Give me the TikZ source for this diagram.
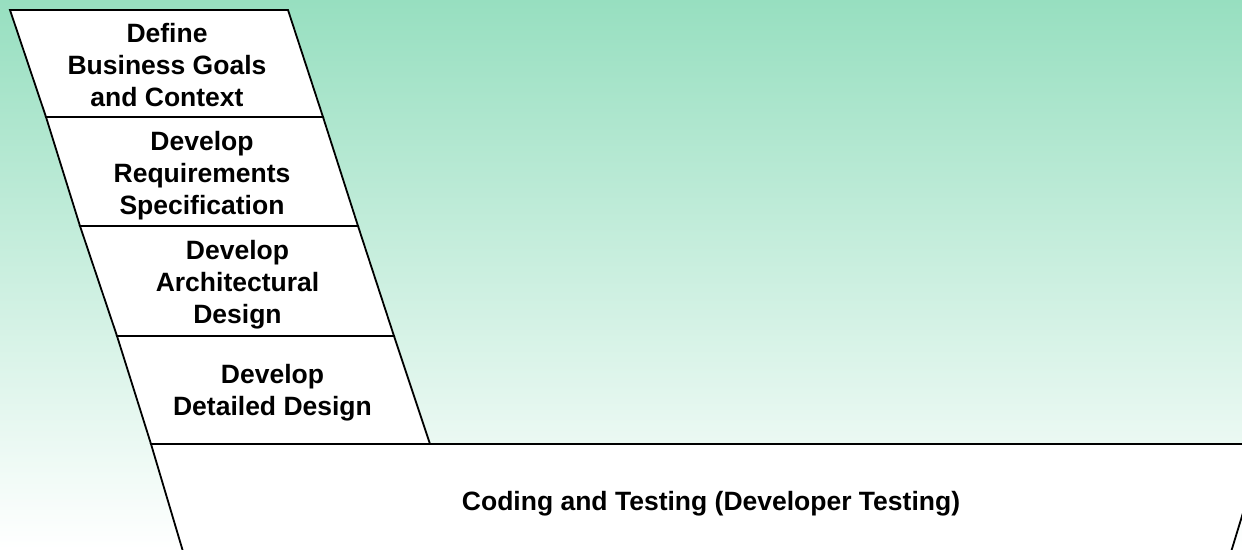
\documentclass[tikz,border=0pt]{standalone}
\usepackage{fontspec}
\setmainfont{Liberation Sans}
\definecolor{bgtop}{RGB}{151,223,192}
\tikzset{
  stage/.style={draw=black, fill=white, line width=1.8pt, line join=miter},
  lbl/.style={anchor=base, inner sep=0pt, font=\fontsize{26.5}{32}\selectfont\bfseries}
}
\begin{document}
\begin{tikzpicture}[x=1pt,y=-1pt]
\useasboundingbox (0,0) rectangle (1242,549);
\clip (0,0) rectangle (1242,549);
\shade[top color=bgtop, bottom color=white] (0,0) rectangle (1242,549);
% corners
\coordinate (a0) at (10,10);  \coordinate (b0) at (288,10);
\coordinate (a1) at (46,117); \coordinate (b1) at (323,117);
\coordinate (a2) at (80,226); \coordinate (b2) at (358,226);
\coordinate (a3) at (117,336); \coordinate (b3) at (394,336);
\coordinate (a4) at (151,444); \coordinate (b4) at (430,444);
\coordinate (c4) at (1264,444);
\coordinate (a6) at (190,575); \coordinate (c6) at (1224,575);
\draw[stage] (a0) -- (b0) -- (b1) -- (a1) -- cycle;
\draw[stage] (a1) -- (b1) -- (b2) -- (a2) -- cycle;
\draw[stage] (a2) -- (b2) -- (b3) -- (a3) -- cycle;
\draw[stage] (a3) -- (b3) -- (b4) -- (a4) -- cycle;
\draw[stage] (a4) -- (c4) -- (c6) -- (a6) -- cycle;
\node[lbl] (t1) at (167,42) {\begin{tabular}[t]{@{}c@{}}Define\\Business Goals\\and Context\end{tabular}};
\node[lbl] (t2) at (202,150) {\begin{tabular}[t]{@{}c@{}}Develop\\Requirements\\Specification\end{tabular}};
\node[lbl] (t3) at (237.5,259) {\begin{tabular}[t]{@{}c@{}}Develop\\Architectural\\Design\end{tabular}};
\node[lbl] (t4) at (272.5,383) {\begin{tabular}[t]{@{}c@{}}Develop\\Detailed Design\end{tabular}};
\node[lbl] (t5) at (711,510) {Coding and Testing (Developer Testing)};
\end{tikzpicture}
\end{document}
